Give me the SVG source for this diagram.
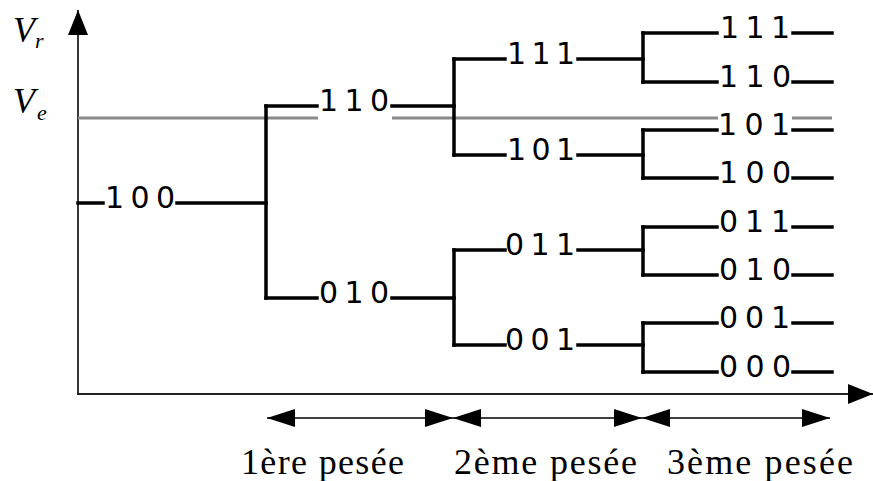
<svg xmlns="http://www.w3.org/2000/svg" width="873" height="481" viewBox="0 0 873 481">
<style>
.b{stroke:#000;stroke-width:3.5;fill:none;stroke-linecap:square}
.g{stroke:#8a8a8a;stroke-width:3.2;fill:none}
.ax{stroke:#222;stroke-width:1.8;fill:none}
.ar{stroke:#000;stroke-width:1.5;fill:none}
.n{font-family:"DejaVu Sans","Liberation Sans",Arial,sans-serif;font-size:30px;fill:#000}
.p{font-family:"Liberation Serif","Times New Roman",serif;font-size:36px;fill:#000}
.v{font-family:"Liberation Serif","Times New Roman",serif;font-style:italic;fill:#000}
</style>
<defs>
<marker id="ah" viewBox="0 0 28 18" refX="28" refY="9" markerWidth="28" markerHeight="18" markerUnits="userSpaceOnUse" orient="auto-start-reverse">
<path d="M0,0 L28,9 L0,18 Z" fill="#000"/>
</marker>
<marker id="axh" viewBox="0 0 25 20" refX="25" refY="10" markerWidth="25" markerHeight="20" markerUnits="userSpaceOnUse" orient="auto">
<path d="M0,0 L25,10 L0,20 Z" fill="#000"/>
</marker>
</defs>
<g id="axes">
<line class="ax" x1="78" y1="394" x2="78" y2="10" marker-end="url(#axh)"/>
<line class="ax" x1="77" y1="394" x2="873" y2="394" marker-end="url(#axh)"/>
<text class="v" x="13" y="42" font-size="36">V</text><text class="v" x="35" y="48" font-size="22">r</text>
<text class="v" x="13" y="113" font-size="36">V</text><text class="v" x="37" y="120" font-size="22">e</text>
</g>
<g id="ve-line">
<line class="g" x1="78" y1="118" x2="318" y2="118"/>
<line class="g" x1="392" y1="118" x2="718" y2="118"/>
<line class="g" x1="792" y1="118" x2="832" y2="118"/>
</g>
<g id="connectors">
<line class="b" x1="78" y1="203" x2="103" y2="203"/>
<line class="b" x1="177" y1="203" x2="266" y2="203"/>
<line class="b" x1="266" y1="106" x2="266" y2="298"/>
<line class="b" x1="266" y1="106" x2="317" y2="106"/>
<line class="b" x1="392" y1="106" x2="454" y2="106"/>
<line class="b" x1="266" y1="298" x2="317" y2="298"/>
<line class="b" x1="392" y1="298" x2="454" y2="298"/>
<line class="b" x1="454" y1="59" x2="454" y2="155"/>
<line class="b" x1="454" y1="250" x2="454" y2="345"/>
<line class="b" x1="454" y1="59" x2="505" y2="59"/>
<line class="b" x1="578" y1="59" x2="643" y2="59"/>
<line class="b" x1="454" y1="155" x2="505" y2="155"/>
<line class="b" x1="578" y1="155" x2="643" y2="155"/>
<line class="b" x1="454" y1="250" x2="505" y2="250"/>
<line class="b" x1="578" y1="250" x2="643" y2="250"/>
<line class="b" x1="454" y1="345" x2="505" y2="345"/>
<line class="b" x1="578" y1="345" x2="643" y2="345"/>
<line class="b" x1="643" y1="33" x2="643" y2="82"/>
<line class="b" x1="643" y1="130" x2="643" y2="178"/>
<line class="b" x1="643" y1="227" x2="643" y2="275"/>
<line class="b" x1="643" y1="323" x2="643" y2="372"/>
<line class="b" x1="643" y1="33" x2="717" y2="33"/>
<line class="b" x1="643" y1="82" x2="717" y2="82"/>
<line class="b" x1="643" y1="130" x2="717" y2="130"/>
<line class="b" x1="643" y1="178" x2="717" y2="178"/>
<line class="b" x1="643" y1="227" x2="717" y2="227"/>
<line class="b" x1="643" y1="275" x2="717" y2="275"/>
<line class="b" x1="643" y1="323" x2="717" y2="323"/>
<line class="b" x1="643" y1="372" x2="717" y2="372"/>
<line class="b" x1="793" y1="33" x2="832" y2="33"/>
<line class="b" x1="793" y1="82" x2="832" y2="82"/>
<line class="b" x1="793" y1="130" x2="832" y2="130"/>
<line class="b" x1="793" y1="178" x2="832" y2="178"/>
<line class="b" x1="793" y1="227" x2="832" y2="227"/>
<line class="b" x1="793" y1="275" x2="832" y2="275"/>
<line class="b" x1="793" y1="323" x2="832" y2="323"/>
<line class="b" x1="793" y1="372" x2="832" y2="372"/>
</g>
<g id="n100"><text class="n" x="105" y="208" textLength="70" lengthAdjust="spacing">100</text></g>
<g id="n110"><text class="n" x="319" y="111" textLength="70" lengthAdjust="spacing">110</text></g>
<g id="n010"><text class="n" x="319" y="303" textLength="70" lengthAdjust="spacing">010</text></g>
<g id="n111a"><text class="n" x="507" y="64" textLength="68" lengthAdjust="spacing">111</text></g>
<g id="n101a"><text class="n" x="507" y="160" textLength="68" lengthAdjust="spacing">101</text></g>
<g id="n011a"><text class="n" x="505" y="255" textLength="70" lengthAdjust="spacing">011</text></g>
<g id="n001a"><text class="n" x="505" y="350" textLength="70" lengthAdjust="spacing">001</text></g>
<g id="n111"><text class="n" x="720" y="38" textLength="70" lengthAdjust="spacing">111</text></g>
<g id="n110b"><text class="n" x="719" y="87" textLength="72" lengthAdjust="spacing">110</text></g>
<g id="n101b"><text class="n" x="718" y="135" textLength="72" lengthAdjust="spacing">101</text></g>
<g id="n100b"><text class="n" x="719" y="183" textLength="72" lengthAdjust="spacing">100</text></g>
<g id="n011b"><text class="n" x="719" y="232" textLength="71" lengthAdjust="spacing">011</text></g>
<g id="n010b"><text class="n" x="719" y="280" textLength="72" lengthAdjust="spacing">010</text></g>
<g id="n001b"><text class="n" x="719" y="328" textLength="71" lengthAdjust="spacing">001</text></g>
<g id="n000b"><text class="n" x="719" y="377" textLength="72" lengthAdjust="spacing">000</text></g>
<g id="phases">
<line class="ar" x1="267" y1="418" x2="453" y2="418" marker-start="url(#ah)" marker-end="url(#ah)"/>
<line class="ar" x1="453" y1="418" x2="642" y2="418" marker-start="url(#ah)" marker-end="url(#ah)"/>
<line class="ar" x1="642" y1="418" x2="830" y2="418" marker-start="url(#ah)" marker-end="url(#ah)"/>
<text class="p" x="241" y="474" textLength="163" lengthAdjust="spacing">1ère pesée</text>
<text class="p" x="454" y="474" textLength="183" lengthAdjust="spacing">2ème pesée</text>
<text class="p" x="667" y="474" textLength="186" lengthAdjust="spacing">3ème pesée</text>
</g>
</svg>
